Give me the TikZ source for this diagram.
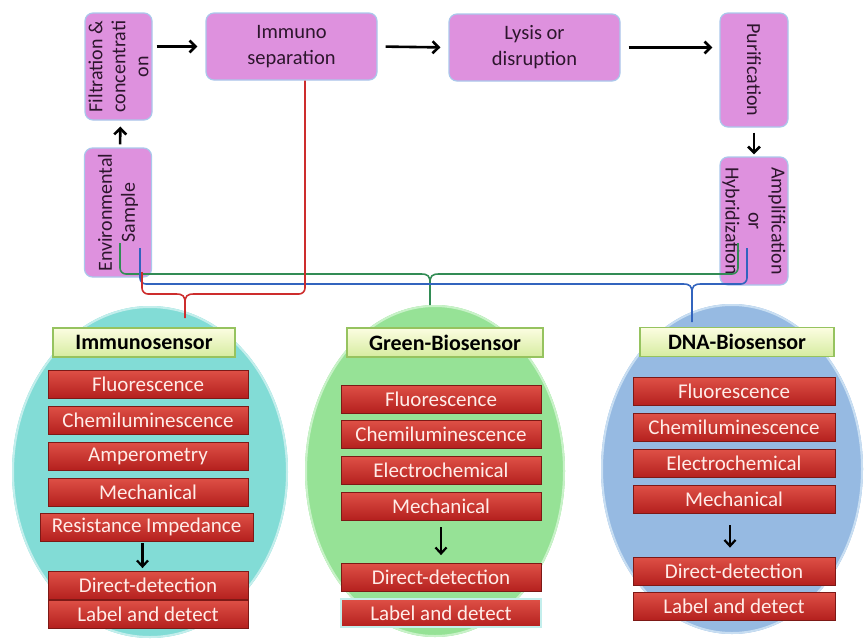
\documentclass[tikz,border=0pt]{standalone}
\usepackage{fontspec}
\setmainfont{Carlito}
\usetikzlibrary{arrows.meta,calc}

\definecolor{pinkfill}{RGB}{222,145,222}
\definecolor{pinkedge}{RGB}{170,200,235}
\definecolor{pinktext}{RGB}{45,22,45}
\definecolor{redtop}{RGB}{222,80,70}
\definecolor{redbot}{RGB}{180,32,30}
\definecolor{rededge}{RGB}{125,25,22}
\definecolor{redtext}{RGB}{255,236,232}
\definecolor{titletop}{RGB}{252,253,225}
\definecolor{titlebot}{RGB}{214,236,160}
\definecolor{titleedge}{RGB}{150,195,95}
\definecolor{cyanfill}{RGB}{130,220,214}
\definecolor{cyanrim}{RGB}{195,238,236}
\definecolor{greenfill}{RGB}{150,226,150}
\definecolor{greenrim}{RGB}{200,242,200}
\definecolor{bluefill}{RGB}{150,186,226}
\definecolor{bluerim}{RGB}{200,222,242}
\definecolor{linkred}{RGB}{205,45,45}
\definecolor{linkgreen}{RGB}{50,140,85}
\definecolor{linkblue}{RGB}{50,100,190}

% curly junction where a link drops down to one sensor group
\newcommand\bracestem[3]{%
  \draw[#1] ($(#2)+(-9,0)$) .. controls ($(#2)+(-2,0)$) and ($(#2)+(0,2)$) .. ($(#2)+(0,9)$)
            .. controls ($(#2)+(0,2)$) and ($(#2)+(2,0)$) .. ($(#2)+(9,0)$)
            ($(#2)+(0,9)$) -- (#3);}

\begin{document}
\begin{tikzpicture}[x=1pt,y=-1pt,
  procbox/.style={draw=pinkedge, line width=1.2pt, fill=pinkfill, rounded corners=8pt,
    text=pinktext, align=center, inner sep=0pt, font=\fontsize{20.5}{26}\selectfont},
  vtext/.style={font=\fontsize{20}{23}\selectfont},
  flow/.style={draw=black, line width=2.6pt, -{Straight Barb[length=6pt,width=12pt]}},
  smallflow/.style={draw=black, line width=2.2pt, -{Straight Barb[length=6pt,width=11pt]}},
  titlebox/.style={draw=titleedge, line width=1.2pt, top color=titletop, bottom color=titlebot,
    minimum height=29pt, inner sep=0pt, font=\fontsize{22}{24}\selectfont\bfseries, text=black},
  method/.style={draw=rededge, line width=0.8pt, top color=redtop, bottom color=redbot,
    minimum height=28pt, inner sep=0pt, text=redtext, font=\fontsize{21}{24}\selectfont},
  link/.style={line width=1.6pt, rounded corners=6pt},
]
\useasboundingbox (0,0) rectangle (864,640);

% sensor groups (background ellipses)
\fill[cyanfill] (150,472) ellipse [x radius=138, y radius=166];
\draw[cyanrim, line width=2pt] (150,472) ellipse [x radius=137, y radius=165];
\fill[greenfill] (435,471) ellipse [x radius=130, y radius=166];
\draw[greenrim, line width=2pt] (435,471) ellipse [x radius=129, y radius=165];
\fill[bluefill] (732,469) ellipse [x radius=131, y radius=165];
\draw[bluerim, line width=2pt] (732,469) ellipse [x radius=130, y radius=164];

% process chain
\node[procbox, minimum width=107pt, minimum height=67pt, rotate=90, vtext] (filt) at (118.5,66.5)
  {Filtration \&\\concentrati\\on};
\node[procbox, minimum width=129pt, minimum height=67pt, rotate=90, vtext] (env) at (118,212.5)
  {Environmental\\Sample};
\node[procbox, minimum width=171pt, minimum height=67pt] (imm) at (291.5,46.5) {Immuno\\separation};
\node[procbox, minimum width=171pt, minimum height=67pt] (lys) at (534.5,47.5) {Lysis or\\disruption};
\node[procbox, minimum width=114pt, minimum height=68pt, rotate=-90, vtext] (pur) at (754,70)
  {Purification};
\node[procbox, minimum width=128pt, minimum height=68pt, rotate=-90, vtext] (amp) at (754,221)
  {Amplification\\or\\Hybridization};

\draw[flow, shorten <=4pt, shorten >=8pt] (imm.west -| filt.south) -- (imm.west);
\draw[flow, shorten <=8pt, shorten >=8pt] (imm.east) -- (lys.west);
\draw[flow, shorten <=8pt, shorten >=7pt] (lys.east) -- (lys.east -| pur.south);
\draw[flow, shorten <=5pt, shorten >=2pt] (pur.east) -- (amp.west);
\draw[flow, shorten <=3pt, shorten >=6pt] ($(env.east)+(2,0)$) -- ($(filt.west)+(2,0)$);

% link anchors
\coordinate (gA) at ($(env.center)+(2,30.5)$);
\coordinate (bA) at ($(env.center)+(22,35.5)$);
\coordinate (rA) at ($(env.center)+(24,59.5)$);
\coordinate (rB) at ($(imm.south)+(13.5,0)$);
\coordinate (gB) at ($(amp.center)+(-16,22)$);
\coordinate (bB) at ($(amp.center)+(-7,27)$);
\coordinate (gJ) at (430,274);
\coordinate (bJ) at (692,284);
\coordinate (rJ) at (185,294);
\coordinate (gT) at (430,305);
\coordinate (bT) at (692,322);
\coordinate (rT) at (185,318);

% links from the process chain to the sensor groups
\draw[link, linkgreen] (gA) |- ($(gJ)+(-9,0)$);
\draw[link, linkgreen] ($(gJ)+(9,0)$) -| (gB);
\bracestem{linkgreen, line width=1.6pt}{gJ}{gT}
\draw[link, linkblue] (bA) |- ($(bJ)+(-9,0)$);
\draw[link, linkblue] ($(bJ)+(9,0)$) -| (bB);
\bracestem{linkblue, line width=1.6pt}{bJ}{bT}
\draw[link, linkred] (rA) |- ($(rJ)+(-9,0)$);
\draw[link, linkred] ($(rJ)+(9,0)$) -| (rB);
\bracestem{linkred, line width=1.6pt}{rJ}{rT}

% Immunosensor group
\node[titlebox, minimum width=182pt] (ti) at (144,342.5) {Immunosensor};
\node[method, minimum width=200pt] (i1) at (148,384) {Fluorescence};
\node[method, minimum width=200pt] (i2) at (148,420) {Chemiluminescence};
\node[method, minimum width=200pt] (i3) at (148,456) {Amperometry};
\node[method, minimum width=200pt] (i4) at (148,492) {Mechanical};
\node[method, minimum width=213pt] (i5) at (146.5,527) {Resistance Impedance};
\node[method, minimum width=200pt] (i6) at (148,585.5) {Direct-detection};
\node[method, minimum width=200pt] (i7) at (148,614) {Label and detect};
\draw[smallflow, shorten <=2pt, shorten >=3pt] ($(i5.south)+(-4,0)$) -- ($(i5.south |- i6.north)+(-4,0)$);

% Green-Biosensor group
\node[titlebox, minimum width=196pt] (tg) at (445,342.5) {Green-Biosensor};
\node[method, minimum width=200pt] (g1) at (441,399) {Fluorescence};
\node[method, minimum width=200pt] (g2) at (441,434.5) {Chemiluminescence};
\node[method, minimum width=200pt] (g3) at (441,470.5) {Electrochemical};
\node[method, minimum width=200pt] (g4) at (441,506) {Mechanical};
\node[method, minimum width=200pt] (g5) at (441,577.5) {Direct-detection};
\node[method, minimum width=200pt, draw=cyanrim, line width=2pt] (g6) at (441,613) {Label and detect};
\draw[smallflow, shorten <=7pt, shorten >=8pt] (g4.south) -- (g5.north);

% DNA-Biosensor group
\node[titlebox, minimum width=194pt] (td) at (737,342) {DNA-Biosensor};
\node[method, minimum width=202pt] (d1) at (734,391.5) {Fluorescence};
\node[method, minimum width=202pt] (d2) at (734,427.5) {Chemiluminescence};
\node[method, minimum width=202pt] (d3) at (734,463.5) {Electrochemical};
\node[method, minimum width=202pt] (d4) at (734,499) {Mechanical};
\node[method, minimum width=202pt] (d5) at (734,571) {Direct-detection};
\node[method, minimum width=202pt] (d6) at (734,606) {Label and detect};
\draw[smallflow, shorten <=12pt, shorten >=9pt] ($(d4.south)+(-4,0)$) -- ($(d5.north)+(-4,0)$);

\end{tikzpicture}
\end{document}
